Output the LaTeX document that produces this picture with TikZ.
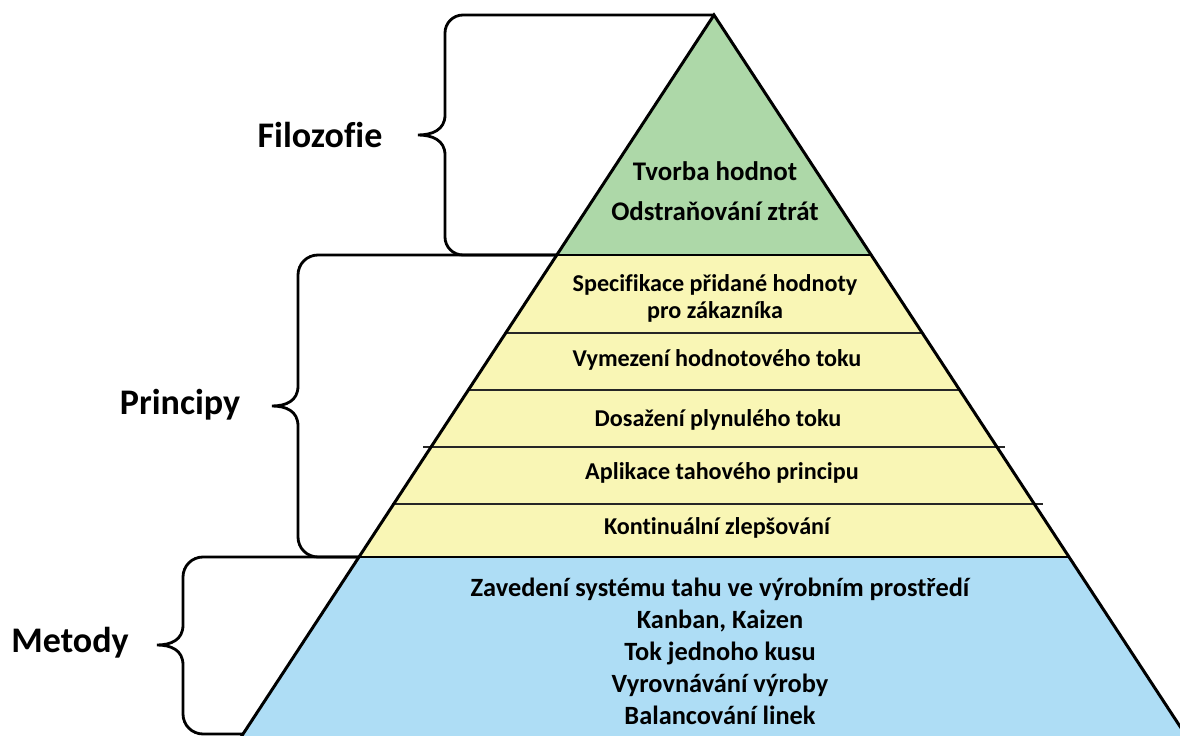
\documentclass[tikz,border=0pt]{standalone}
\usepackage{fontspec}
\setmainfont{Carlito}[Ligatures=NoCommon]
\usepackage{tikz}
\usetikzlibrary{positioning,calc}
\definecolor{zelena}{RGB}{173,216,168}
\definecolor{zluta}{RGB}{249,246,181}
\definecolor{modra}{RGB}{174,221,245}
\tikzset{
    obrys/.style={line width=1.7pt, line join=miter},
    delic/.style={line width=0.6pt, draw=black!85},
    zavorka/.style={line width=1.6pt},
    popisek/.style={font=\bfseries\fontsize{20.5}{24}\selectfont, inner sep=0pt},
    obsah/.style={
        font=\bfseries\fontsize{13.75}{16}\selectfont,
        align=center,
        inner sep=0pt
    }
}

\begin{document}
\begin{tikzpicture}[x=0.02cm, y=-0.02cm]
    \useasboundingbox (0,0) rectangle (1180,736);
    \clip (0,0) rectangle (1180,736);

    % rohy pyramidy
    \coordinate (vrchol) at (714,15);
    \coordinate (zl) at (557,255);
    \coordinate (zp) at (871,255);
    \coordinate (yl) at (359,557);
    \coordinate (yp) at (1069,557);
    \coordinate (ml) at (226,760);
    \coordinate (mp) at (1202,760);

    % vrstvy
    \fill[zelena] (vrchol) -- (zp) -- (zl) -- cycle;
    \fill[zluta] (zl) -- (zp) -- (yp) -- (yl) -- cycle;
    \fill[modra] (yl) -- (yp) -- (mp) -- (ml) -- cycle;

    % tenke cary mezi principy
    \draw[delic] (506,333) -- (922,333);
    \draw[delic] (468,390) -- (960,390);
    \draw[delic] (423,447) -- (1005,447);
    \draw[delic] (392,504) -- (1043,504);

    \draw[obrys] (ml) -- (vrchol) -- (mp);
    \draw[obrys] (zl) -- (zp);
    \draw[obrys] (yl) -- (yp);

    % zavorky
    \draw[zavorka] (vrchol) -- (463,15) to[out=180,in=90] (445,33) -- (445,115)
        .. controls (445,130) and (432,135) .. (418,135)
        .. controls (432,135) and (445,140) .. (445,155)
        -- (445,237) to[out=-90,in=180] (463,255) -- (zl);
    \draw[zavorka] (zl) -- (318,255) to[out=180,in=90] (298,275) -- (298,386)
        .. controls (298,401) and (286,406) .. (272,406)
        .. controls (286,406) and (298,411) .. (298,426)
        -- (298,537) to[out=-90,in=180] (318,557) -- (yl);
    \draw[zavorka] (yl) -- (203,557) to[out=180,in=90] (183,577) -- (183,625)
        .. controls (183,640) and (171,645) .. (157,645)
        .. controls (171,645) and (183,650) .. (183,665)
        -- (183,714) to[out=-90,in=180] (203,734) -- (243,734);

    % popisky
    \node[popisek] (filozofie) at (320,135) {Filozofie};
    \node[popisek] (principy) at (180,405) {Principy};
    \node[popisek] (metody) at (70,643) {Metody};

    % obsah vrstev
    \node[obsah, font=\bfseries\fontsize{15.3}{22.7}\selectfont] (hodnoty) at (715,191)
        {Tvorba hodnot\\Odstraňování ztrát};
    \node[obsah, font=\bfseries\fontsize{13.75}{15.3}\selectfont] (specifikace) at (715,298)
        {Specifikace přidané hodnoty\\pro zákazníka};
    \node[obsah] (vymezeni) at (717,360) {Vymezení hodnotového toku};
    \node[obsah] (dosazeni) at (718,420) {Dosažení plynulého toku};
    \node[obsah] (aplikace) at (722,473) {Aplikace tahového principu};
    \node[obsah] (kontinualni) at (717,528) {Kontinuální zlepšování};
    \node[obsah, font=\bfseries\fontsize{15}{18.2}\selectfont] (metodyobsah) at (720,651)
        {Zavedení systému tahu ve výrobním prostředí\\
         Kanban, Kaizen\\
         Tok jednoho kusu\\
         Vyrovnávání výroby\\
         Balancování linek};
\end{tikzpicture}
\end{document}
